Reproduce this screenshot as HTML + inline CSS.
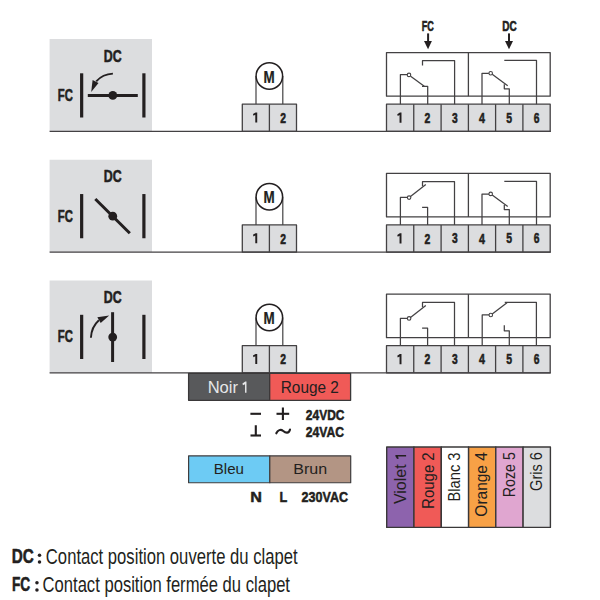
<!DOCTYPE html>
<html><head><meta charset="utf-8"><style>
html,body{margin:0;padding:0;background:#fff;}
svg{display:block;}
rect,polyline,line{stroke-linejoin:round;}
text{font-family:"Liberation Sans", sans-serif;}
</style></head><body>
<svg width="600" height="600" viewBox="0 0 600 600">
<rect width="600" height="600" fill="#fff"/>
<rect x="49.6" y="39.00" width="102.4" height="92.30" fill="#dcdddf"/>
<text transform="translate(103.82,61.69) scale(0.7550,1)" font-size="16.38" font-weight="bold" fill="#231f20" stroke="#231f20" stroke-width="0.5" vector-effect="non-scaling-stroke" stroke-linejoin="round">DC</text>
<text transform="translate(57.74,100.89) scale(0.6897,1)" font-size="16.38" font-weight="bold" fill="#231f20" stroke="#231f20" stroke-width="0.5" vector-effect="non-scaling-stroke" stroke-linejoin="round">FC</text>
<rect x="80.05" y="73.30" width="3.2" height="44.2" fill="#231f20"/>
<rect x="142.3" y="73.30" width="3.2" height="44.2" fill="#231f20"/>
<line x1="256" y1="76.00" x2="256" y2="104.20" stroke="#434143" stroke-width="1.2"/>
<line x1="282.8" y1="76.00" x2="282.8" y2="104.20" stroke="#434143" stroke-width="1.2"/>
<circle cx="269.35" cy="76.00" r="13.25" fill="#fff" stroke="#231f20" stroke-width="1.5"/>
<text transform="translate(263.40,82.60) scale(0.8335,1)" font-size="16.13" font-weight="bold" fill="#231f20" stroke="#231f20" stroke-width="0.2" vector-effect="non-scaling-stroke" stroke-linejoin="round">M</text>
<rect x="242.3" y="104.20" width="54.20" height="27.10" fill="#dcdddf" stroke="#434143" stroke-width="1.3"/>
<line x1="269.4" y1="104.20" x2="269.4" y2="131.30" stroke="#434143" stroke-width="1.3"/>
<path transform="translate(256.25,112.40)" d="M0.97,0 L0.97,10.20 L-0.97,10.20 L-0.97,2.32 L-2.77,3.33 L-3.27,1.62 L-0.68,0 Z" fill="#231f20"/>
<text transform="translate(280.30,122.75) scale(0.7020,1)" font-size="14.76" font-weight="bold" fill="#231f20" stroke="#231f20" stroke-width="0.5" vector-effect="non-scaling-stroke" stroke-linejoin="round">2</text>
<rect x="386.5" y="52.60" width="163.70" height="43.60" fill="none" stroke="#434143" stroke-width="1.3"/>
<line x1="468.4" y1="52.60" x2="468.4" y2="96.20" stroke="#434143" stroke-width="1.3"/>
<rect x="386.5" y="104.20" width="163.70" height="27.10" fill="#dcdddf" stroke="#434143" stroke-width="1.3"/>
<line x1="413.75" y1="104.20" x2="413.75" y2="131.30" stroke="#434143" stroke-width="1.3"/>
<line x1="441.1" y1="104.20" x2="441.1" y2="131.30" stroke="#434143" stroke-width="1.3"/>
<line x1="468.4" y1="104.20" x2="468.4" y2="131.30" stroke="#434143" stroke-width="1.3"/>
<line x1="495.6" y1="104.20" x2="495.6" y2="131.30" stroke="#434143" stroke-width="1.3"/>
<line x1="522.9" y1="104.20" x2="522.9" y2="131.30" stroke="#434143" stroke-width="1.3"/>
<path transform="translate(400.52,112.60)" d="M0.97,0 L0.97,10.10 L-0.97,10.10 L-0.97,2.30 L-2.77,3.30 L-3.27,1.60 L-0.68,0 Z" fill="#231f20"/>
<text transform="translate(424.55,122.75) scale(0.7063,1)" font-size="14.76" font-weight="bold" fill="#231f20" stroke="#231f20" stroke-width="0.5" vector-effect="non-scaling-stroke" stroke-linejoin="round">2</text>
<text transform="translate(451.96,122.59) scale(0.7074,1)" font-size="14.53" font-weight="bold" fill="#231f20" stroke="#231f20" stroke-width="0.5" vector-effect="non-scaling-stroke" stroke-linejoin="round">3</text>
<text transform="translate(478.97,122.75) scale(0.7144,1)" font-size="14.97" font-weight="bold" fill="#231f20" stroke="#231f20" stroke-width="0.5" vector-effect="non-scaling-stroke" stroke-linejoin="round">4</text>
<text transform="translate(506.33,122.60) scale(0.7085,1)" font-size="14.76" font-weight="bold" fill="#231f20" stroke="#231f20" stroke-width="0.5" vector-effect="non-scaling-stroke" stroke-linejoin="round">5</text>
<text transform="translate(533.69,122.60) scale(0.7055,1)" font-size="14.55" font-weight="bold" fill="#231f20" stroke="#231f20" stroke-width="0.5" vector-effect="non-scaling-stroke" stroke-linejoin="round">6</text>
<line x1="49.6" y1="131.35" x2="550.8" y2="131.35" stroke="#434143" stroke-width="1.3"/>
<rect x="49.6" y="159.75" width="102.4" height="92.30" fill="#dcdddf"/>
<text transform="translate(103.82,182.44) scale(0.7550,1)" font-size="16.38" font-weight="bold" fill="#231f20" stroke="#231f20" stroke-width="0.5" vector-effect="non-scaling-stroke" stroke-linejoin="round">DC</text>
<text transform="translate(57.74,221.64) scale(0.6897,1)" font-size="16.38" font-weight="bold" fill="#231f20" stroke="#231f20" stroke-width="0.5" vector-effect="non-scaling-stroke" stroke-linejoin="round">FC</text>
<rect x="80.05" y="194.05" width="3.2" height="44.2" fill="#231f20"/>
<rect x="142.3" y="194.05" width="3.2" height="44.2" fill="#231f20"/>
<line x1="256" y1="196.75" x2="256" y2="224.95" stroke="#434143" stroke-width="1.2"/>
<line x1="282.8" y1="196.75" x2="282.8" y2="224.95" stroke="#434143" stroke-width="1.2"/>
<circle cx="269.35" cy="196.75" r="13.25" fill="#fff" stroke="#231f20" stroke-width="1.5"/>
<text transform="translate(263.40,203.35) scale(0.8335,1)" font-size="16.13" font-weight="bold" fill="#231f20" stroke="#231f20" stroke-width="0.2" vector-effect="non-scaling-stroke" stroke-linejoin="round">M</text>
<rect x="242.3" y="224.95" width="54.20" height="27.10" fill="#dcdddf" stroke="#434143" stroke-width="1.3"/>
<line x1="269.4" y1="224.95" x2="269.4" y2="252.05" stroke="#434143" stroke-width="1.3"/>
<path transform="translate(256.25,233.15)" d="M0.97,0 L0.97,10.20 L-0.97,10.20 L-0.97,2.32 L-2.77,3.33 L-3.27,1.62 L-0.68,0 Z" fill="#231f20"/>
<text transform="translate(280.30,243.50) scale(0.7020,1)" font-size="14.76" font-weight="bold" fill="#231f20" stroke="#231f20" stroke-width="0.5" vector-effect="non-scaling-stroke" stroke-linejoin="round">2</text>
<rect x="386.5" y="173.35" width="163.70" height="43.60" fill="none" stroke="#434143" stroke-width="1.3"/>
<line x1="468.4" y1="173.35" x2="468.4" y2="216.95" stroke="#434143" stroke-width="1.3"/>
<rect x="386.5" y="224.95" width="163.70" height="27.10" fill="#dcdddf" stroke="#434143" stroke-width="1.3"/>
<line x1="413.75" y1="224.95" x2="413.75" y2="252.05" stroke="#434143" stroke-width="1.3"/>
<line x1="441.1" y1="224.95" x2="441.1" y2="252.05" stroke="#434143" stroke-width="1.3"/>
<line x1="468.4" y1="224.95" x2="468.4" y2="252.05" stroke="#434143" stroke-width="1.3"/>
<line x1="495.6" y1="224.95" x2="495.6" y2="252.05" stroke="#434143" stroke-width="1.3"/>
<line x1="522.9" y1="224.95" x2="522.9" y2="252.05" stroke="#434143" stroke-width="1.3"/>
<path transform="translate(400.52,233.35)" d="M0.97,0 L0.97,10.10 L-0.97,10.10 L-0.97,2.30 L-2.77,3.30 L-3.27,1.60 L-0.68,0 Z" fill="#231f20"/>
<text transform="translate(424.55,243.50) scale(0.7063,1)" font-size="14.76" font-weight="bold" fill="#231f20" stroke="#231f20" stroke-width="0.5" vector-effect="non-scaling-stroke" stroke-linejoin="round">2</text>
<text transform="translate(451.96,243.34) scale(0.7074,1)" font-size="14.53" font-weight="bold" fill="#231f20" stroke="#231f20" stroke-width="0.5" vector-effect="non-scaling-stroke" stroke-linejoin="round">3</text>
<text transform="translate(478.97,243.50) scale(0.7144,1)" font-size="14.97" font-weight="bold" fill="#231f20" stroke="#231f20" stroke-width="0.5" vector-effect="non-scaling-stroke" stroke-linejoin="round">4</text>
<text transform="translate(506.33,243.35) scale(0.7085,1)" font-size="14.76" font-weight="bold" fill="#231f20" stroke="#231f20" stroke-width="0.5" vector-effect="non-scaling-stroke" stroke-linejoin="round">5</text>
<text transform="translate(533.69,243.35) scale(0.7055,1)" font-size="14.55" font-weight="bold" fill="#231f20" stroke="#231f20" stroke-width="0.5" vector-effect="non-scaling-stroke" stroke-linejoin="round">6</text>
<line x1="49.6" y1="252.10" x2="550.8" y2="252.10" stroke="#434143" stroke-width="1.3"/>
<rect x="49.6" y="280.50" width="102.4" height="92.30" fill="#dcdddf"/>
<text transform="translate(103.82,303.19) scale(0.7550,1)" font-size="16.38" font-weight="bold" fill="#231f20" stroke="#231f20" stroke-width="0.5" vector-effect="non-scaling-stroke" stroke-linejoin="round">DC</text>
<text transform="translate(57.74,342.39) scale(0.6897,1)" font-size="16.38" font-weight="bold" fill="#231f20" stroke="#231f20" stroke-width="0.5" vector-effect="non-scaling-stroke" stroke-linejoin="round">FC</text>
<rect x="80.05" y="314.80" width="3.2" height="44.2" fill="#231f20"/>
<rect x="142.3" y="314.80" width="3.2" height="44.2" fill="#231f20"/>
<line x1="256" y1="317.50" x2="256" y2="345.70" stroke="#434143" stroke-width="1.2"/>
<line x1="282.8" y1="317.50" x2="282.8" y2="345.70" stroke="#434143" stroke-width="1.2"/>
<circle cx="269.35" cy="317.50" r="13.25" fill="#fff" stroke="#231f20" stroke-width="1.5"/>
<text transform="translate(263.40,324.10) scale(0.8335,1)" font-size="16.13" font-weight="bold" fill="#231f20" stroke="#231f20" stroke-width="0.2" vector-effect="non-scaling-stroke" stroke-linejoin="round">M</text>
<rect x="242.3" y="345.70" width="54.20" height="27.10" fill="#dcdddf" stroke="#434143" stroke-width="1.3"/>
<line x1="269.4" y1="345.70" x2="269.4" y2="372.80" stroke="#434143" stroke-width="1.3"/>
<path transform="translate(256.25,353.90)" d="M0.97,0 L0.97,10.20 L-0.97,10.20 L-0.97,2.32 L-2.77,3.33 L-3.27,1.62 L-0.68,0 Z" fill="#231f20"/>
<text transform="translate(280.30,364.25) scale(0.7020,1)" font-size="14.76" font-weight="bold" fill="#231f20" stroke="#231f20" stroke-width="0.5" vector-effect="non-scaling-stroke" stroke-linejoin="round">2</text>
<rect x="386.5" y="294.10" width="163.70" height="43.60" fill="none" stroke="#434143" stroke-width="1.3"/>
<line x1="468.4" y1="294.10" x2="468.4" y2="337.70" stroke="#434143" stroke-width="1.3"/>
<rect x="386.5" y="345.70" width="163.70" height="27.10" fill="#dcdddf" stroke="#434143" stroke-width="1.3"/>
<line x1="413.75" y1="345.70" x2="413.75" y2="372.80" stroke="#434143" stroke-width="1.3"/>
<line x1="441.1" y1="345.70" x2="441.1" y2="372.80" stroke="#434143" stroke-width="1.3"/>
<line x1="468.4" y1="345.70" x2="468.4" y2="372.80" stroke="#434143" stroke-width="1.3"/>
<line x1="495.6" y1="345.70" x2="495.6" y2="372.80" stroke="#434143" stroke-width="1.3"/>
<line x1="522.9" y1="345.70" x2="522.9" y2="372.80" stroke="#434143" stroke-width="1.3"/>
<path transform="translate(400.52,354.10)" d="M0.97,0 L0.97,10.10 L-0.97,10.10 L-0.97,2.30 L-2.77,3.30 L-3.27,1.60 L-0.68,0 Z" fill="#231f20"/>
<text transform="translate(424.55,364.25) scale(0.7063,1)" font-size="14.76" font-weight="bold" fill="#231f20" stroke="#231f20" stroke-width="0.5" vector-effect="non-scaling-stroke" stroke-linejoin="round">2</text>
<text transform="translate(451.96,364.09) scale(0.7074,1)" font-size="14.53" font-weight="bold" fill="#231f20" stroke="#231f20" stroke-width="0.5" vector-effect="non-scaling-stroke" stroke-linejoin="round">3</text>
<text transform="translate(478.97,364.25) scale(0.7144,1)" font-size="14.97" font-weight="bold" fill="#231f20" stroke="#231f20" stroke-width="0.5" vector-effect="non-scaling-stroke" stroke-linejoin="round">4</text>
<text transform="translate(506.33,364.10) scale(0.7085,1)" font-size="14.76" font-weight="bold" fill="#231f20" stroke="#231f20" stroke-width="0.5" vector-effect="non-scaling-stroke" stroke-linejoin="round">5</text>
<text transform="translate(533.69,364.10) scale(0.7055,1)" font-size="14.55" font-weight="bold" fill="#231f20" stroke="#231f20" stroke-width="0.5" vector-effect="non-scaling-stroke" stroke-linejoin="round">6</text>
<line x1="49.6" y1="372.85" x2="550.8" y2="372.85" stroke="#434143" stroke-width="1.3"/>
<line x1="87.8" y1="95.45" x2="137.8" y2="95.45" stroke="#231f20" stroke-width="2.9"/>
<circle cx="112.8" cy="95.45" r="4.4" fill="#231f20"/>
<path d="M112.9,73.6 C106,73.9 100.5,76.5 96.2,81.4" fill="none" stroke="#231f20" stroke-width="1.9"/>
<path d="M92.6,80.1 L98.5,82.9 L91.2,92.0 Z" fill="#231f20"/>
<line x1="95.3" y1="199.00" x2="129.8" y2="233.20" stroke="#231f20" stroke-width="3"/>
<circle cx="112.75" cy="216.2" r="4.4" fill="#231f20"/>
<line x1="112.6" y1="312.2" x2="112.6" y2="362" stroke="#231f20" stroke-width="3"/>
<circle cx="112.7" cy="337.1" r="4.4" fill="#231f20"/>
<path d="M90.9,337.8 C91.2,331 93.5,325 98.9,320.2" fill="none" stroke="#231f20" stroke-width="1.9"/>
<path d="M97.3,317.3 L100.7,322.9 L109.2,315.6 Z" fill="#231f20"/>
<polyline points="400.40,104.20 400.40,74.50 407.30,74.50" fill="none" stroke="#434143" stroke-width="1.25"/>
<polyline points="410.60,76.20 424.30,86.30" fill="none" stroke="#434143" stroke-width="1.25"/>
<polyline points="422.00,86.30 427.70,86.30 427.70,104.20" fill="none" stroke="#434143" stroke-width="1.25"/>
<polyline points="422.50,65.60 422.50,60.70 454.60,60.70 454.60,104.20" fill="none" stroke="#434143" stroke-width="1.25"/>
<circle cx="409.0" cy="74.90" r="1.75" fill="#fff" stroke="#434143" stroke-width="1.1"/>
<polyline points="482.00,104.20 482.00,73.30 489.00,73.30" fill="none" stroke="#434143" stroke-width="1.25"/>
<polyline points="492.20,74.30 507.70,85.70" fill="none" stroke="#434143" stroke-width="1.25"/>
<polyline points="504.30,84.30 504.30,88.80 509.30,88.80 509.30,104.20" fill="none" stroke="#434143" stroke-width="1.25"/>
<polyline points="504.30,60.40 536.50,60.40 536.50,104.20" fill="none" stroke="#434143" stroke-width="1.25"/>
<circle cx="490.7" cy="73.20" r="1.75" fill="#fff" stroke="#434143" stroke-width="1.1"/>
<polyline points="400.40,224.95 400.40,197.40 407.40,197.40" fill="none" stroke="#434143" stroke-width="1.25"/>
<polyline points="410.50,196.50 425.80,184.50" fill="none" stroke="#434143" stroke-width="1.25"/>
<polyline points="422.50,186.30 422.50,181.70 454.50,181.70 454.50,224.95" fill="none" stroke="#434143" stroke-width="1.25"/>
<polyline points="422.10,207.30 427.60,207.30 427.60,224.95" fill="none" stroke="#434143" stroke-width="1.25"/>
<circle cx="409.1" cy="197.60" r="1.75" fill="#fff" stroke="#434143" stroke-width="1.1"/>
<polyline points="482.00,224.95 482.00,194.00 489.00,194.00" fill="none" stroke="#434143" stroke-width="1.25"/>
<polyline points="492.20,195.00 507.70,206.40" fill="none" stroke="#434143" stroke-width="1.25"/>
<polyline points="504.30,205.00 504.30,209.50 509.30,209.50 509.30,224.95" fill="none" stroke="#434143" stroke-width="1.25"/>
<polyline points="504.30,181.40 536.50,181.40 536.50,224.95" fill="none" stroke="#434143" stroke-width="1.25"/>
<circle cx="490.7" cy="193.90" r="1.75" fill="#fff" stroke="#434143" stroke-width="1.1"/>
<polyline points="400.40,345.70 400.40,318.30 407.40,318.30" fill="none" stroke="#434143" stroke-width="1.25"/>
<polyline points="410.50,317.40 425.80,305.50" fill="none" stroke="#434143" stroke-width="1.25"/>
<polyline points="422.50,307.20 422.50,302.40 454.50,302.40 454.50,345.70" fill="none" stroke="#434143" stroke-width="1.25"/>
<polyline points="422.10,328.20 427.60,328.20 427.60,345.70" fill="none" stroke="#434143" stroke-width="1.25"/>
<circle cx="409.1" cy="318.40" r="1.75" fill="#fff" stroke="#434143" stroke-width="1.1"/>
<polyline points="482.20,345.70 482.20,314.90 489.10,314.90" fill="none" stroke="#434143" stroke-width="1.25"/>
<polyline points="492.20,314.00 507.00,302.70" fill="none" stroke="#434143" stroke-width="1.25"/>
<polyline points="504.75,302.30 536.40,302.30 536.40,345.70" fill="none" stroke="#434143" stroke-width="1.25"/>
<polyline points="504.30,325.20 504.30,330.80 509.30,330.80 509.30,345.70" fill="none" stroke="#434143" stroke-width="1.25"/>
<circle cx="490.8" cy="315.00" r="1.75" fill="#fff" stroke="#434143" stroke-width="1.1"/>
<text transform="translate(421.64,30.51) scale(0.6589,1)" font-size="13.84" font-weight="bold" fill="#231f20" stroke="#231f20" stroke-width="0.5" vector-effect="non-scaling-stroke" stroke-linejoin="round">FC</text>
<text transform="translate(502.28,30.51) scale(0.7224,1)" font-size="13.84" font-weight="bold" fill="#231f20" stroke="#231f20" stroke-width="0.5" vector-effect="non-scaling-stroke" stroke-linejoin="round">DC</text>
<rect x="427.1" y="33.4" width="2" height="8" fill="#231f20"/>
<path d="M424,41 L431.9,41 L428.05,49.3 Z" fill="#231f20"/>
<rect x="508" y="33.4" width="2" height="8" fill="#231f20"/>
<path d="M505,41 L513,41 L509,49.3 Z" fill="#231f20"/>
<rect x="188.6" y="373.3" width="81.1" height="27.0" fill="#58595b" stroke="#3a3839" stroke-width="1.3"/>
<rect x="269.7" y="373.3" width="80.9" height="27.0" fill="#f05a57" stroke="#3a3839" stroke-width="1.3"/>
<text transform="translate(207.64,392.80) scale(0.9896,1)" font-size="16.72" font-weight="normal" fill="#e6e7e8">Noir</text>
<path transform="translate(245.75,381.60)" d="M0.72,0 L0.72,11.25 L-0.72,11.25 L-0.72,2.56 L-2.82,3.68 L-3.32,1.78 L-0.42,0 Z" fill="#e6e7e8"/>
<text transform="translate(280.74,392.75) scale(0.9263,1)" font-size="16.64" font-weight="normal" fill="#231f20">Rouge 2</text>
<rect x="250.4" y="412.75" width="10.6" height="2.1" fill="#231f20"/>
<rect x="276.5" y="412.75" width="12.7" height="2.1" fill="#231f20"/>
<rect x="281.85" y="407.5" width="2.1" height="12.5" fill="#231f20"/>
<text transform="translate(305.83,419.50) scale(0.7860,1)" font-size="15.25" font-weight="bold" fill="#231f20" stroke="#231f20" stroke-width="0.5" vector-effect="non-scaling-stroke" stroke-linejoin="round">24VDC</text>
<rect x="250.5" y="434.45" width="10.5" height="2.1" fill="#231f20"/>
<rect x="254.75" y="425.25" width="2.1" height="10" fill="#231f20"/>
<path d="M276.3,433.3 C277.8,430 280.6,428.9 283.2,431 C285.8,433.2 288.8,433.6 290,429.6" fill="none" stroke="#231f20" stroke-width="2.1" stroke-linecap="round"/>
<text transform="translate(305.82,436.60) scale(0.8270,1)" font-size="14.69" font-weight="bold" fill="#231f20" stroke="#231f20" stroke-width="0.5" vector-effect="non-scaling-stroke" stroke-linejoin="round">24VAC</text>
<rect x="188.6" y="455.85" width="81.2" height="26.9" fill="#6dcbf4" stroke="#3f3d3e" stroke-width="1.2"/>
<rect x="269.8" y="455.85" width="80.9" height="26.9" fill="#b39584" stroke="#3f3d3e" stroke-width="1.2"/>
<text transform="translate(213.76,474.30) scale(0.9808,1)" font-size="15.41" font-weight="normal" fill="#231f20">Bleu</text>
<text transform="translate(293.19,474.30) scale(1.0405,1)" font-size="15.41" font-weight="normal" fill="#231f20">Brun</text>
<text transform="translate(250.17,501.75) scale(1.0388,1)" font-size="15.55" font-weight="bold" fill="#231f20" stroke="#231f20" stroke-width="0.5" vector-effect="non-scaling-stroke" stroke-linejoin="round">N</text>
<text transform="translate(279.40,501.75) scale(0.8147,1)" font-size="15.55" font-weight="bold" fill="#231f20" stroke="#231f20" stroke-width="0.5" vector-effect="non-scaling-stroke" stroke-linejoin="round">L</text>
<text transform="translate(301.61,501.68) scale(0.8160,1)" font-size="15.37" font-weight="bold" fill="#231f20" stroke="#231f20" stroke-width="0.5" vector-effect="non-scaling-stroke" stroke-linejoin="round">230VAC</text>
<rect x="386.70" y="447.0" width="27.25" height="80.4" fill="#8d63ad" stroke="#3a3839" stroke-width="1.4"/>
<rect x="413.95" y="447.0" width="27.35" height="80.4" fill="#f05a57" stroke="#3a3839" stroke-width="1.4"/>
<rect x="441.30" y="447.0" width="27.30" height="80.4" fill="#ffffff" stroke="#3a3839" stroke-width="1.4"/>
<rect x="468.60" y="447.0" width="27.20" height="80.4" fill="#f8a146" stroke="#3a3839" stroke-width="1.4"/>
<rect x="495.80" y="447.0" width="27.30" height="80.4" fill="#e0a6d0" stroke="#3a3839" stroke-width="1.4"/>
<rect x="523.10" y="447.0" width="27.30" height="80.4" fill="#dcdddf" stroke="#3a3839" stroke-width="1.4"/>
<text transform="translate(406.10,504.08) rotate(-90) scale(0.9929,1)" font-size="16.13" font-weight="normal" fill="#231f20">Violet</text>
<path transform="translate(395.40,455.75) rotate(-90)" d="M0.72,0 L0.72,10.70 L-0.72,10.70 L-0.72,2.44 L-2.73,3.50 L-3.23,1.70 L-0.42,0 Z" fill="#231f20"/>
<text transform="translate(433.80,508.93) rotate(-90) scale(0.8815,1)" font-size="17.01" font-weight="normal" fill="#231f20">Rouge 2</text>
<text transform="translate(460.00,501.51) rotate(-90) scale(0.9200,1)" font-size="15.99" font-weight="normal" fill="#231f20">Blanc 3</text>
<text transform="translate(487.44,516.63) rotate(-90) scale(0.9690,1)" font-size="15.96" font-weight="normal" fill="#231f20">Orange 4</text>
<text transform="translate(514.60,497.17) rotate(-90) scale(0.8817,1)" font-size="16.13" font-weight="normal" fill="#231f20">Roze 5</text>
<text transform="translate(541.64,490.93) rotate(-90) scale(0.8973,1)" font-size="16.24" font-weight="normal" fill="#231f20">Gris 6</text>
<text transform="translate(11.73,563.45) scale(0.7393,1)" font-size="20.64" font-weight="bold" fill="#231f20" stroke="#231f20" stroke-width="0.5" vector-effect="non-scaling-stroke" stroke-linejoin="round">DC</text>
<circle cx="39.5" cy="555.2" r="1.75" fill="#231f20"/><circle cx="39.5" cy="562.05" r="1.75" fill="#231f20"/>
<text transform="translate(45.85,563.79) scale(0.7862,1)" font-size="21.19" font-weight="normal" fill="#231f20">Contact position ouverte du clapet</text>
<text transform="translate(11.93,591.35) scale(0.6601,1)" font-size="20.78" font-weight="bold" fill="#231f20" stroke="#231f20" stroke-width="0.5" vector-effect="non-scaling-stroke" stroke-linejoin="round">FC</text>
<circle cx="36.95" cy="582.75" r="1.75" fill="#231f20"/><circle cx="36.95" cy="590.0" r="1.75" fill="#231f20"/>
<text transform="translate(42.55,591.68) scale(0.7690,1)" font-size="21.61" font-weight="normal" fill="#231f20">Contact position fermée du clapet</text>
</svg>
</body></html>
